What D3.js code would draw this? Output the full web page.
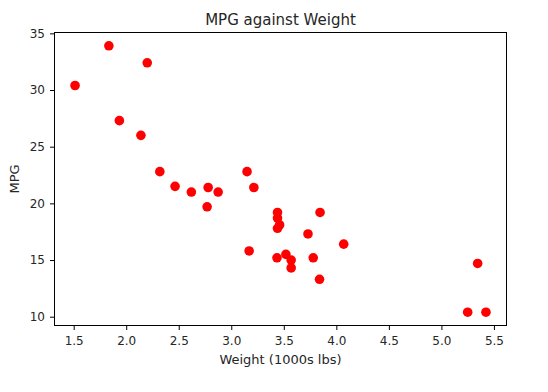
<!DOCTYPE html>
<html>
    <head>
        <script src="https://cdn.jsdelivr.net/npm/d3@7"></script>
    </head>
    <style>
        body { margin: 0; background: #fff; }
        text { font-family: 'DejaVu Sans', sans-serif; fill: #262626; }
    </style>
    <body>
        <div id="canvas"></div>
        <script>
            // weight (1000s lbs) and mpg for each car
            var weights = [1.513, 1.835, 2.200, 1.935, 2.140, 2.320, 2.465, 2.620, 2.770, 2.780,
                           2.875, 3.150, 3.215, 3.440, 3.440, 3.460, 3.440, 3.730, 3.845, 4.070,
                           3.170, 3.435, 3.520, 3.570, 3.570, 3.780, 3.840, 5.250, 5.424, 5.345];
            var mpgs = [30.4, 33.9, 32.4, 27.3, 26.0, 22.8, 21.5, 21.0, 19.7, 21.4,
                        21.0, 22.8, 21.4, 19.2, 18.7, 18.1, 17.8, 17.3, 19.2, 16.4,
                        15.8, 15.2, 15.5, 15.0, 14.3, 15.2, 13.3, 10.4, 10.4, 14.7];
            var xTicks = [1.5, 2.0, 2.5, 3.0, 3.5, 4.0, 4.5, 5.0, 5.5];
            var yTicks = [10, 15, 20, 25, 30, 35];

            const w = 548;
            const h = 392;
            const plotL = 54.5, plotR = 506.5, plotT = 32.5, plotB = 325.5;

            const svg = d3.select('#canvas')
                .append('svg')
                .attr('width', w)
                .attr('height', h);

            // matplotlib style 5% margins
            var xMin = d3.min(weights), xMax = d3.max(weights);
            var yMin = d3.min(mpgs), yMax = d3.max(mpgs);
            var xPad = (xMax - xMin) * 0.05, yPad = (yMax - yMin) * 0.05;

            var x = d3.scaleLinear().domain([xMin - xPad, xMax + xPad]).range([plotL, plotR]);
            var y = d3.scaleLinear().domain([yMin - yPad, yMax + yPad]).range([plotB, plotT]);

            var points = weights.map((d, i) => ({ wt: d, mpg: mpgs[i] }));

            svg.selectAll('circle')
                .data(points)
                .enter()
                .append('circle')
                .attr('cx', d => x(d.wt))
                .attr('cy', d => y(d.mpg))
                .attr('r', 4.8)
                .attr('fill', '#ff0000');

            // axes
            var xAxis = svg.append('g')
                .attr('transform', `translate(0,${plotB})`)
                .call(d3.axisBottom(x).tickValues(xTicks).tickFormat(d3.format('.1f')).tickSizeOuter(0).tickSize(4.5).tickPadding(6));
            var yAxis = svg.append('g')
                .attr('transform', `translate(${plotL},0)`)
                .call(d3.axisLeft(y).tickValues(yTicks).tickSizeOuter(0).tickSize(4.5).tickPadding(5));

            [xAxis, yAxis].forEach(g => {
                g.select('.domain').remove();
                g.selectAll('line').attr('stroke', '#000').attr('stroke-width', 1);
                g.selectAll('text').attr('font-size', '12px').attr('fill', '#262626')
                    .attr('font-family', "'DejaVu Sans', sans-serif");
            });

            // frame
            svg.append('rect')
                .attr('x', plotL)
                .attr('y', plotT)
                .attr('width', plotR - plotL)
                .attr('height', plotB - plotT)
                .attr('fill', 'none')
                .attr('stroke', '#000')
                .attr('stroke-width', 1);

            // labels
            svg.append('text')
                .text('MPG against Weight')
                .attr('x', (plotL + plotR) / 2)
                .attr('y', 24.5)
                .attr('text-anchor', 'middle')
                .attr('font-size', '15px');

            svg.append('text')
                .text('Weight (1000s lbs)')
                .attr('x', (plotL + plotR) / 2)
                .attr('y', 364)
                .attr('text-anchor', 'middle')
                .attr('font-size', '13px');

            svg.append('text')
                .text('MPG')
                .attr('transform', `translate(19,${(plotT + plotB) / 2}) rotate(-90)`)
                .attr('text-anchor', 'middle')
                .attr('font-size', '13px');
        </script>
    </body>
</html>
